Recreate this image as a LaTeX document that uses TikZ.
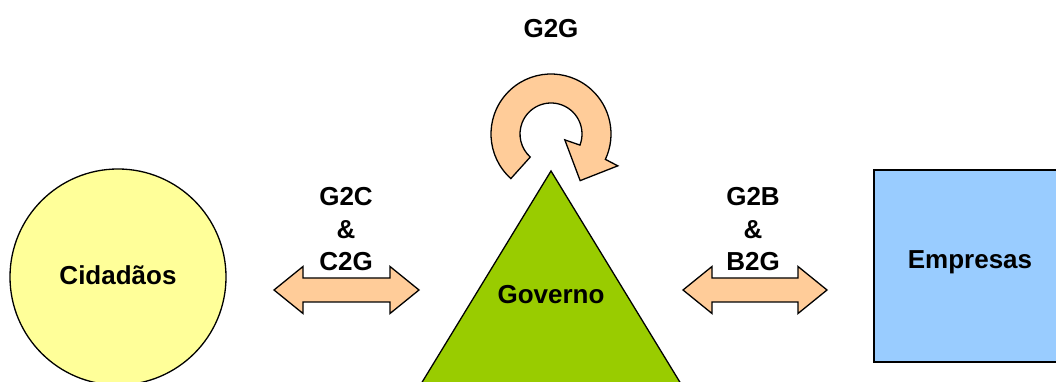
\documentclass[tikz,border=0pt]{standalone}
\usepackage{fontspec}
\setmainfont{Liberation Sans}
\usetikzlibrary{calc}
\begin{document}
\begin{tikzpicture}[x=1pt,y=1pt,
  outline/.style={draw=black,line width=1.3pt,line join=miter},
  lbl/.style={font=\bfseries\fontsize{26}{32.5}\selectfont,align=center,inner sep=0pt},
  flowarrow/.style={outline,fill=peach}]
\definecolor{peach}{HTML}{FFCC99}
\definecolor{lemon}{HTML}{FFFF99}
\definecolor{sky}{HTML}{99CCFF}
\definecolor{leaf}{HTML}{99CC00}
\useasboundingbox (0,0) rectangle (1056,382);
\clip (0,0) rectangle (1056,382);

% Citizens
\draw[outline,fill=lemon] (118,105) circle[radius=108];
\node[lbl] (cid) at (118,107) {Cidadãos};

% Companies
\draw[outline,fill=sky] (874,20) rectangle (1070,212);
\node[lbl] (emp) at (970,120) {Empresas};

% Government
\draw[outline,fill=leaf] (551,211) -- (692,-20) -- (410,-20) -- cycle;
\node[lbl] (gov) at (551,87) {Governo};

% G2G circular arrow
\coordinate (cc) at (551,248);
\draw[flowarrow] ($(cc)+(228:60)$) arc[start angle=228,end angle=-25,radius=60]
  -- ($(cc)+(-25.5:74)$) -- ($(cc)+(-58:55)$) -- ($(cc)+(-23:15)$)
  -- ($(cc)+(-21:31)$) arc[start angle=-21,end angle=228,radius=31] -- cycle;
\node[lbl] (g2g) at (551,353.5) {G2G};

% Double arrows
\foreach \nm/\xa/\xb in {ca/274/419, cb/683/827}{
  \draw[flowarrow] (\xa,92) -- (\xa+29,115.5) -- (\xa+29,104) -- (\xb-29,104)
    -- (\xb-29,115.5) -- (\xb,92) -- (\xb-29,68.5) -- (\xb-29,80)
    -- (\xa+29,80) -- (\xa+29,68.5) -- cycle;
}
\node[lbl] (g2c) at (346,152.5) {G2C\\\&\\C2G};
\node[lbl] (g2b) at (753,152.5) {G2B\\\&\\B2G};
\end{tikzpicture}
\end{document}
